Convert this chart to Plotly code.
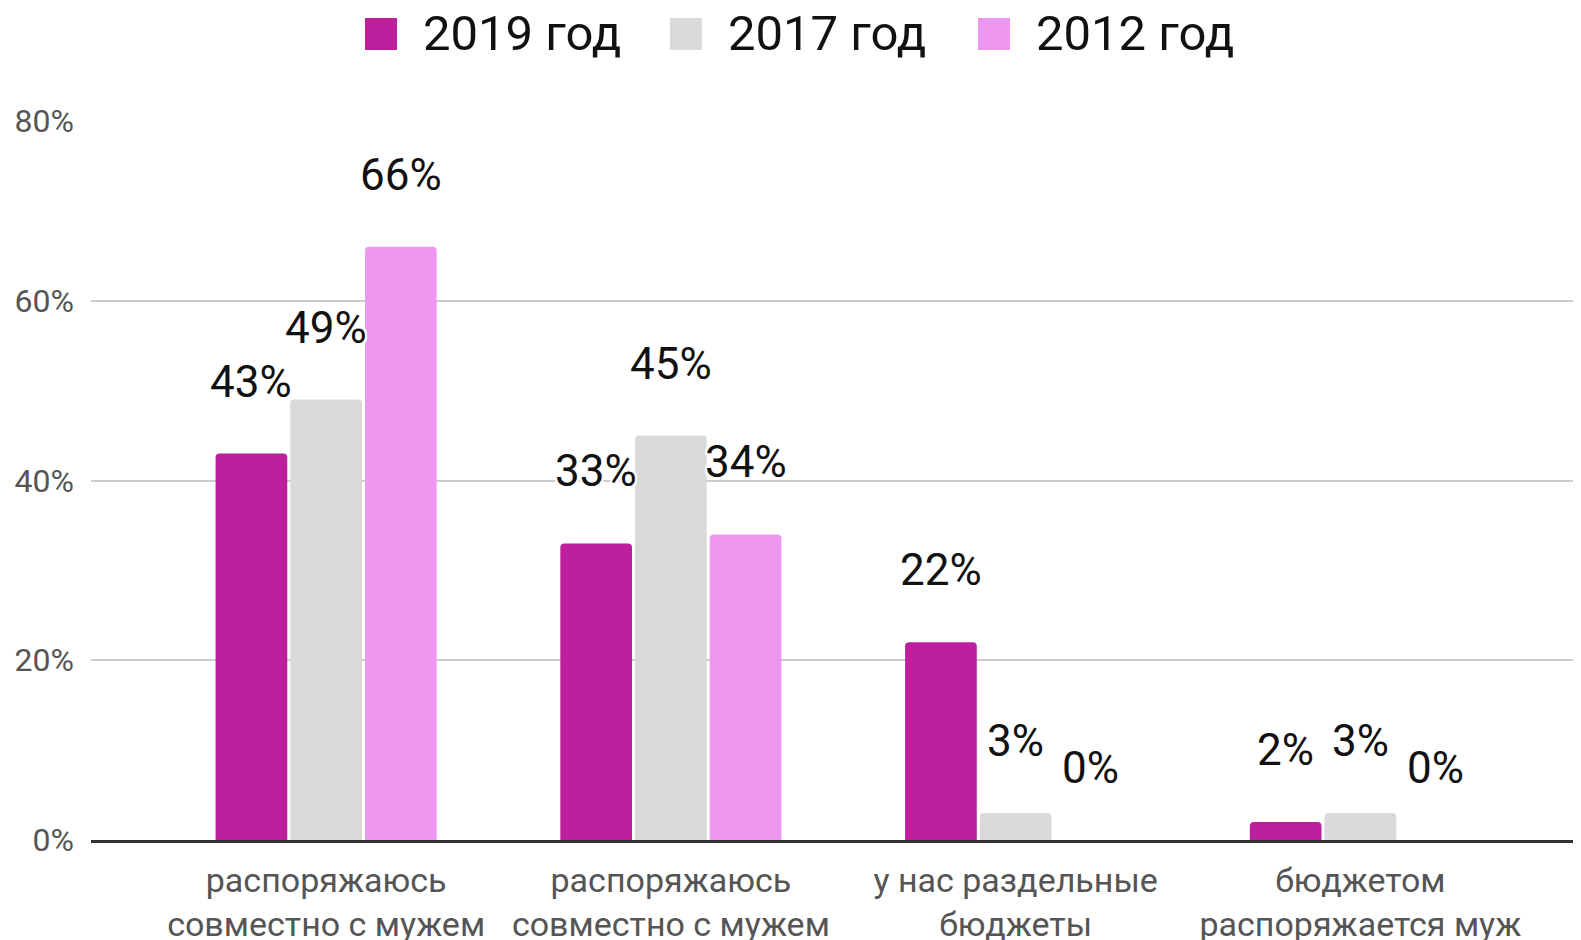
import plotly.graph_objects as go

categories = [
    "распоряжаюсь<br>совместно с мужем",
    "распоряжаюсь<br>совместно с мужем",
    "у нас раздельные<br>бюджеты",
    "бюджетом<br>распоряжается муж",
]
series_names = ["2019 год", "2017 год", "2012 год"]
values_2019 = [43, 33, 22, 2]
values_2017 = [49, 45, 3, 3]
values_2012 = [66, 34, 0, 0]
y_ticks = [0, 20, 40, 60, 80]

colors = ["#BE1F9C", "#D9D9D9", "#EE97F0"]
all_values = [values_2019, values_2017, values_2012]

x_pos = list(range(len(categories)))
bargap = 0.35
bargroupgap = 0.04

# page has an 8px body margin; size the figure to fit the 1581x940 window
PAGE_OFF = 8
FIG_W, FIG_H = 1581 - PAGE_OFF, 940 - PAGE_OFF

fig = go.Figure()
for name, vals, col in zip(series_names, all_values, colors):
    fig.add_trace(go.Bar(
        x=x_pos, y=vals, name=name,
        marker=dict(color=col, line=dict(width=0), cornerradius=4),
        showlegend=False, hoverinfo="skip",
    ))

# value labels
slot = (1 - bargap) / len(series_names)
halo = ("2px 2px 0 #fff, -2px -2px 0 #fff, 2px -2px 0 #fff, -2px 2px 0 #fff, "
        "0 2px 0 #fff, 0 -2px 0 #fff, 2px 0 0 #fff, -2px 0 0 #fff")
annotations = []
for k, vals in enumerate(all_values):
    off = (k - (len(series_names) - 1) / 2) * slot
    for i, v in enumerate(vals):
        annotations.append(dict(
            x=x_pos[i] + off, y=v, xref="x", yref="y",
            text=f"{v}%", showarrow=False,
            yanchor="middle", xanchor="center", yshift=72,
            font=dict(family="Roboto", size=44, color="#111111", shadow=halo),
        ))

# plot area in figure pixels
plot_left, plot_right = 91 - PAGE_OFF, FIG_W
plot_top, plot_bottom = 121 - PAGE_OFF, 840 - PAGE_OFF
pw, ph = plot_right - plot_left, plot_bottom - plot_top

# manual legend (large square swatches)
leg_square_px = [365 - PAGE_OFF, 670 - PAGE_OFF, 978 - PAGE_OFF]
leg_size = 32
leg_cy = 34 - PAGE_OFF
shapes = []
for sx, name, col in zip(leg_square_px, series_names, colors):
    shapes.append(dict(
        type="rect", xref="paper", yref="paper",
        x0=(sx - plot_left) / pw, x1=(sx + leg_size - plot_left) / pw,
        y0=(plot_bottom - (leg_cy + leg_size / 2)) / ph,
        y1=(plot_bottom - (leg_cy - leg_size / 2)) / ph,
        fillcolor=col, line=dict(width=0), layer="above",
    ))
    annotations.append(dict(
        x=(sx + leg_size + 24 - plot_left) / pw, y=(plot_bottom - leg_cy) / ph,
        xref="paper", yref="paper", text=name, showarrow=False,
        xanchor="left", yanchor="middle",
        font=dict(family="Roboto", size=49, color="#111111"),
    ))

fig.update_layout(
    width=FIG_W, height=FIG_H,
    margin=dict(l=plot_left, r=FIG_W - plot_right, t=plot_top, b=FIG_H - plot_bottom,
                autoexpand=False),
    paper_bgcolor="white", plot_bgcolor="white",
    barmode="group", bargap=bargap, bargroupgap=bargroupgap,
    annotations=annotations, shapes=shapes,
    showlegend=False,
    font=dict(family="Roboto"),
)
fig.update_xaxes(
    tickvals=x_pos, ticktext=categories, range=[-0.682, 3.64],
    showgrid=False, zeroline=False, automargin=False,
    showline=True, linecolor="#333333", linewidth=3,
    tickfont=dict(family="Roboto", size=34, color="#555555"),
    ticks="", ticklabelstandoff=8,
)
fig.update_yaxes(
    range=[0, 80], tickvals=y_ticks, ticktext=[f"{t}%" for t in y_ticks],
    showgrid=True, gridcolor="#CCCCCC", gridwidth=2, zeroline=False, automargin=False,
    tickfont=dict(family="Roboto", size=32, color="#555555"),
    ticks="", ticklabelstandoff=16,
)

fig.write_html("out.html")
